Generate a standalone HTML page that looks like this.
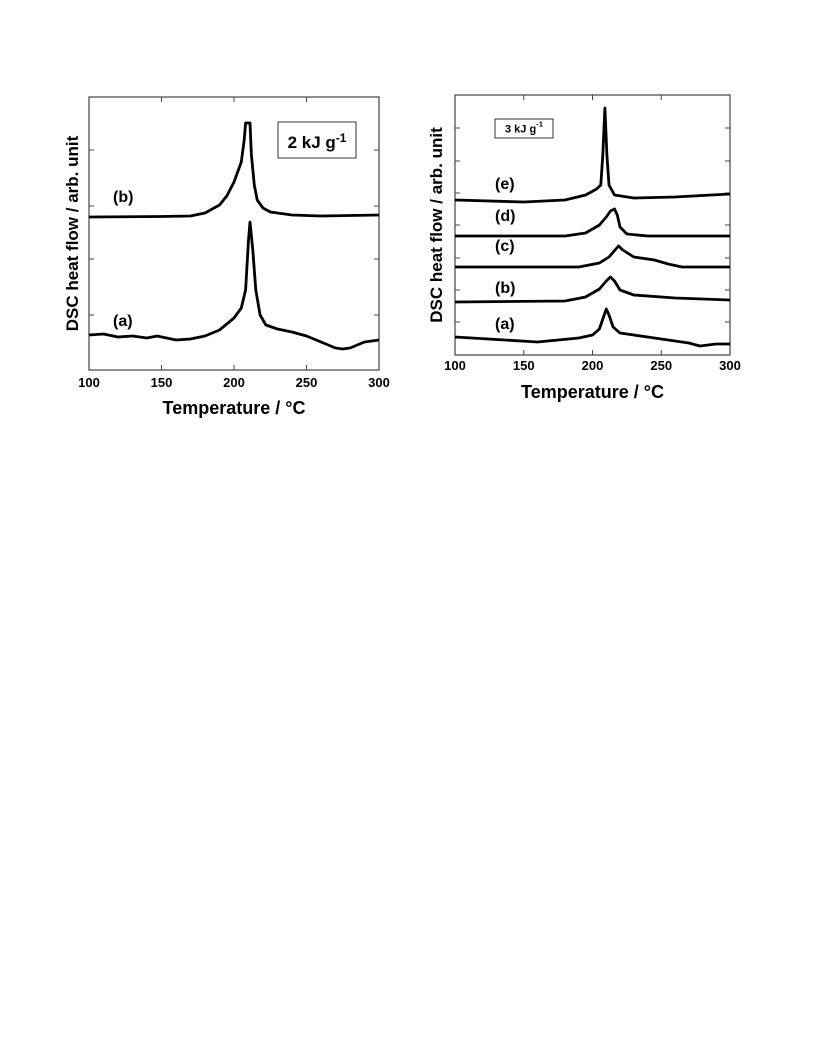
<!DOCTYPE html>
<html><head><meta charset="utf-8"><style>
body{margin:0;background:#fff;width:816px;height:1056px;overflow:hidden}
svg{position:absolute;left:0;top:0}
text{font-family:"Liberation Sans",Arial,sans-serif;font-weight:bold;fill:#000}
</style></head><body>
<svg id="fig" width="816" height="1056"></svg>
<script>
const xTicks=[100,150,200,250,300];
const leftLabels=["(a)","(b)"];
const leftA=[[100,35],[110,36],[120,33],[130,34],[140,32],[147,34],[160,30],[170,31],[180,34],[190,40],[200,52],[205,62],[208,80],[210,130],[211,148],[213,120],[215,80],[218,55],[222,45],[230,41],[240,38],[250,34],[260,28],[270,22],[275,21],[280,22],[290,28],[300,30]];
const leftB=[[100,153],[150,153.5],[170,154],[180,157],[190,165],[195,174],[200,188],[205,208],[207,230],[208,247],[211,247],[212,215],[214,185],[216,170],[220,162],[225,158],[240,155],[260,154],[300,155]];
const rightA=[[100,18],[160,13],[190,17],[200,20],[205,26],[208,38],[210,46],[212,40],[215,28],[220,22],[250,16],[270,12],[278,9],[290,11],[300,11]];
const rightB=[[100,53],[180,54],[195,58],[205,66],[210,74],[213,78],[216,74],[220,65],[230,60],[260,57],[300,55]];
const rightC=[[100,88],[190,88],[205,92],[212,98],[217,106],[219,109],[222,105],[230,98],[245,95],[255,91],[265,88],[300,88]];
const rightD=[[100,119],[180,119],[195,122],[205,130],[210,138],[213,144],[216,146],[218,140],[220,128],[225,121],[240,119],[300,119]];
const rightE=[[100,155],[150,153],[180,155],[195,160],[203,166],[206,170],[207.5,200],[209,247],[210.5,200],[212,170],[216,160],[230,157],[260,158],[300,161]];
const NS="http://www.w3.org/2000/svg";
const svg=document.getElementById('fig');
function el(t,a,p){const e=document.createElementNS(NS,t);for(const k in a)e.setAttribute(k,a[k]);(p||svg).appendChild(e);return e;}
function panel(cfg){
  const g=el('g',{});
  
  
  const sx=v=>cfg.x0+(v-100)/200*(cfg.x1-cfg.x0);
  const sy=v=>cfg.y1-v/cfg.ymax*(cfg.y1-cfg.y0);
  const fr=el('rect',{x:cfg.x0,y:cfg.y0,width:cfg.x1-cfg.x0,height:cfg.y1-cfg.y0,fill:'none',stroke:'#444','stroke-width':1.2},g);
  
  
  xTicks.forEach(t=>{
    el('line',{x1:sx(t),x2:sx(t),y1:cfg.y1,y2:cfg.y1-5,stroke:'#444'},g);
    el('line',{x1:sx(t),x2:sx(t),y1:cfg.y0,y2:cfg.y0+5,stroke:'#444'},g);
    const tx=el('text',{x:sx(t),y:cfg.tickY,'text-anchor':'middle','font-size':13},g);
    tx.textContent=t;
    
    
  });
  cfg.yt.forEach(y=>{
    el('line',{x1:cfg.x0,x2:cfg.x0+5,y1:y,y2:y,stroke:'#444'},g);
    el('line',{x1:cfg.x1,x2:cfg.x1-5,y1:y,y2:y,stroke:'#444'},g);
  });
  cfg.series.forEach(s=>{
    const p=el('path',{d:s.data.map((d,i)=>(i?'L':'M')+sx(d[0]).toFixed(1)+' '+sy(d[1]).toFixed(1)).join(''),fill:'none',stroke:'#000','stroke-width':2.8,'stroke-linejoin':'round'},g);
    
    
    const l=el('text',{x:s.lx,y:s.ly,'font-size':16},g);
    l.textContent='('+s.id+')';
    
    
  });
  const xt=el('text',{x:(cfg.x0+cfg.x1)/2,y:cfg.titleY,'text-anchor':'middle','font-size':18},g);
  xt.textContent='Temperature / °C';
  
  
  const yt=el('text',{x:0,y:0,'text-anchor':'middle','font-size':17,transform:`translate(${cfg.ylabX},${(cfg.y0+cfg.y1)/2}) rotate(-90)`},g);
  yt.textContent='DSC heat flow / arb. unit';
  
  
  const b=el('rect',{x:cfg.box[0],y:cfg.box[1],width:cfg.box[2],height:cfg.box[3],fill:'#fff',stroke:'#333','stroke-width':1},g);
  
  
  const bt=el('text',{x:cfg.box[0]+cfg.box[2]/2,y:cfg.box[1]+cfg.box[3]*0.72,'text-anchor':'middle','font-size':cfg.boxFs,'font-weight':cfg.boxW},g);
  bt.innerHTML=cfg.boxTxt+'<tspan dy="-6" font-size="'+(cfg.boxFs*0.7)+'">-1</tspan>';
  
  
}
panel({name:'left-panel',x0:89,x1:379,y0:97,y1:370,ymax:273,tickY:387,titleY:414,ylabX:78,yt:[150,206,259,315],
 series:[{id:'a',data:leftA,lx:113,ly:326},{id:'b',data:leftB,lx:113,ly:202}],
 box:[278,122,78,36],boxTxt:'2 kJ g',boxFs:17,boxW:'bold'});
panel({name:'right-panel',x0:455,x1:730,y0:95,y1:355,ymax:260,tickY:370,titleY:398,ylabX:442,yt:[128,161,193,225,258,290,322],
 series:[{id:'a',data:rightA,lx:495,ly:329},{id:'b',data:rightB,lx:495,ly:293},{id:'c',data:rightC,lx:495,ly:251},{id:'d',data:rightD,lx:495,ly:221},{id:'e',data:rightE,lx:495,ly:189}],
 box:[495,119,58,19],boxTxt:'3 kJ g',boxFs:11,boxW:'normal'});
</script>
</body></html>
